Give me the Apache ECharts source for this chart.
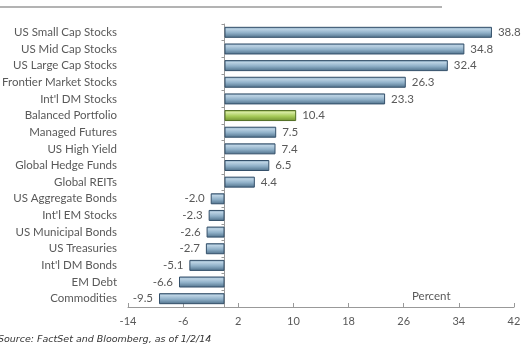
<!DOCTYPE html>
<html>
<head>
<meta charset="utf-8">
<script src="https://cdn.jsdelivr.net/npm/echarts@6/dist/echarts.min.js"></script>
<style>
  html, body { margin: 0; padding: 0; background: #fff; }
  #chart { width: 527px; height: 349px; }
</style>
</head>
<body>
<div id="chart"></div>
<script>
// Asset class returns, in percent
const categories = [
  'US Small Cap Stocks', 'US Mid Cap Stocks', 'US Large Cap Stocks',
  'Frontier Market Stocks', "Int'l DM Stocks", 'Balanced Portfolio',
  'Managed Futures', 'US High Yield', 'Global Hedge Funds', 'Global REITs',
  'US Aggregate Bonds', "Int'l EM Stocks", 'US Municipal Bonds',
  'US Treasuries', "Int'l DM Bonds", 'EM Debt', 'Commodities'
];
const returns = [38.8, 34.8, 32.4, 26.3, 23.3, 10.4, 7.5, 7.4, 6.5, 4.4,
  -2.0, -2.3, -2.6, -2.7, -5.1, -6.6, -9.5];
const highlighted = 'Balanced Portfolio';
const xTicks = { min: -14, max: 42, interval: 8 };

const FONT = 'Lato';
const TEXT = '#595959';

const blueFill = new echarts.graphic.LinearGradient(0, 0, 0, 1, [
  { offset: 0, color: '#7396b0' },
  { offset: 0.2, color: '#bcd3e4' },
  { offset: 0.55, color: '#8fb0c8' },
  { offset: 1, color: '#4d6e88' }
]);
const greenFill = new echarts.graphic.LinearGradient(0, 0, 0, 1, [
  { offset: 0, color: '#8db13f' },
  { offset: 0.2, color: '#d6eaa2' },
  { offset: 0.55, color: '#a8cc5a' },
  { offset: 1, color: '#6f9030' }
]);

const chart = echarts.init(document.getElementById('chart'), null, { renderer: 'canvas' });

chart.setOption({
  animation: false,
  grid: { left: 128, right: 13, top: 24, bottom: 42, containLabel: false, outerBoundsMode: 'none' },
  xAxis: {
    type: 'value',
    min: xTicks.min, max: xTicks.max, interval: xTicks.interval,
    axisLine: { show: true, lineStyle: { color: '#999', width: 1 } },
    axisTick: { show: true, inside: true, length: 4, lineStyle: { color: '#999' } },
    splitLine: { show: false },
    axisLabel: { color: TEXT, fontFamily: FONT, fontSize: 11, margin: 9 }
  },
  yAxis: {
    type: 'category',
    data: categories,
    inverse: true,
    axisLine: { show: true, onZero: true, lineStyle: { color: '#999', width: 1 } },
    axisTick: { show: true, length: 3, lineStyle: { color: '#999' } },
    axisLabel: { color: TEXT, fontFamily: FONT, fontSize: 11.5, margin: 11 }
  },
  series: [{
    type: 'bar',
    barWidth: 11,
    data: returns.map((v, i) => ({
      value: v,
      itemStyle: {
        color: categories[i] === highlighted ? greenFill : blueFill,
        borderColor: categories[i] === highlighted ? '#526f24' : '#34506a',
        borderWidth: 1
      },
      label: { position: v < 0 ? 'left' : 'right' }
    })),
    label: {
      show: true,
      color: TEXT, fontFamily: FONT, fontSize: 11.5, distance: 6,
      formatter: p => p.value.toFixed(1)
    }
  }],
  graphic: [
    { type: 'line', shape: { x1: 0, y1: 7, x2: 442, y2: 7 },
      style: { stroke: '#9a9a9a', lineWidth: 1.5 } },
    { type: 'text', left: 412, top: 290,
      style: { text: 'Percent', fill: TEXT, font: '11.5px ' + FONT } },
    { type: 'text', left: -2, top: 335,
      style: { text: 'Source: FactSet and Bloomberg, as of 1/2/14', fill: '#333',
        font: 'italic 9.5px "DejaVu Sans"' } }
  ]
});
</script>
</body>
</html>
